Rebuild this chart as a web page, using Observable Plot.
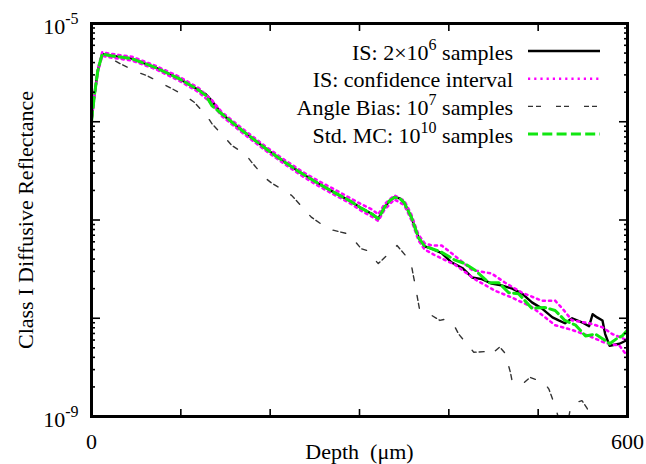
<!DOCTYPE html>
<html><head><meta charset="utf-8">
<script src="https://cdn.jsdelivr.net/npm/d3@7"></script>
<script src="https://cdn.jsdelivr.net/npm/@observablehq/plot@0.6"></script>
<style>
body{margin:0;background:#fff}
#chart{width:646px;height:464px}
</style>
</head><body><div id="chart"></div>
<script>
// ---- data (depth in µm, reflectance) ----
const isDepth = [0,3,7,12,22,45,72,98,120,128,135,146,169,196,216,236,254,272,290,302,314,321,328,334,339,345,350,358,366,373,381,392,403,415,426,437,448,460,471,482,493,504,516,523,530,538,549,557,561,566,572,575,580,591,598,600];
const isRefl  = [1.0e-6,1.78e-6,3.3e-6,4.9e-6,4.7e-6,4.4e-6,3.55e-6,2.75e-6,2.1e-6,1.9e-6,1.62e-6,1.2e-6,8.1e-7,5.25e-7,3.9e-7,2.95e-7,2.35e-7,1.9e-7,1.55e-7,1.32e-7,1.15e-7,1.03e-7,1.35e-7,1.58e-7,1.7e-7,1.66e-7,1.5e-7,1.07e-7,6.6e-8,5.4e-8,5.1e-8,4.6e-8,3.7e-8,3.25e-8,2.6e-8,2.5e-8,2.25e-8,2.15e-8,2.0e-8,1.78e-8,1.45e-8,1.26e-8,1.02e-8,9.5e-9,8.9e-9,1.0e-8,9.1e-9,8.3e-9,1.1e-8,1.02e-8,9.5e-9,6.9e-9,5.25e-9,5.5e-9,5.9e-9,6.3e-9];

const mcDepth = [0,3,7,12,22,45,72,98,120,128,135,146,169,196,216,236,254,272,290,302,314,321,328,334,339,345,350,358,366,373,381,392,407,418,429,445,456,467,478,493,507,519,530,542,553,564,572,580,589,594,600];
const mcRefl  = [1.0e-6,1.78e-6,3.3e-6,4.9e-6,4.7e-6,4.4e-6,3.55e-6,2.75e-6,2.1e-6,1.85e-6,1.45e-6,1.2e-6,8.1e-7,5.25e-7,3.9e-7,2.95e-7,2.35e-7,1.9e-7,1.55e-7,1.32e-7,1.15e-7,1.03e-7,1.35e-7,1.58e-7,1.7e-7,1.66e-7,1.5e-7,1.07e-7,6.6e-8,5.4e-8,5.1e-8,4.7e-8,3.9e-8,3.6e-8,3.1e-8,2.3e-8,2.3e-8,1.82e-8,1.78e-8,1.26e-8,1.29e-8,1.2e-8,9.5e-9,8.5e-9,6.6e-9,6.9e-9,6.2e-9,5.5e-9,6.3e-9,6.6e-9,7.6e-9];

const ciHiDepth = [0,3,7,12,22,45,72,98,120,135,146,169,196,216,236,254,272,290,302,314,321,328,339,350,358,366,373,381,392,403,426,448,463,482,504,519,527,538,557,572,583,594,600];
const ciHiRefl  = [1.0e-6,1.82e-6,3.45e-6,5.1e-6,4.9e-6,4.6e-6,3.7e-6,2.88e-6,2.2e-6,1.65e-6,1.25e-6,8.5e-7,5.5e-7,4.1e-7,3.1e-7,2.5e-7,2.05e-7,1.66e-7,1.45e-7,1.28e-7,1.14e-7,1.45e-7,1.78e-7,1.58e-7,1.14e-7,7.1e-8,5.8e-8,5.5e-8,5.5e-8,4.6e-8,3.1e-8,2.85e-8,2.3e-8,1.82e-8,1.51e-8,1.51e-8,1.26e-8,9.5e-9,8.9e-9,8.1e-9,6.9e-9,6.3e-9,5.9e-9];

const ciLoDepth = [0,3,7,12,22,45,72,98,120,135,146,169,196,216,236,254,272,290,302,314,321,328,339,350,358,366,373,384,407,429,452,471,493,519,538,557,575,591,600];
const ciLoRefl  = [1.0e-6,1.72e-6,3.15e-6,4.7e-6,4.5e-6,4.2e-6,3.42e-6,2.62e-6,2.0e-6,1.52e-6,1.14e-6,7.7e-7,5.0e-7,3.72e-7,2.8e-7,2.22e-7,1.8e-7,1.47e-7,1.24e-7,1.08e-7,0.98e-7,1.27e-7,1.62e-7,1.42e-7,1.0e-7,6.2e-8,5.0e-8,4.4e-8,3.5e-8,2.5e-8,1.9e-8,1.62e-8,1.3e-8,8.5e-9,7.6e-9,6.6e-9,5.6e-9,5.25e-9,4.1e-9];

const abDepth = [0,3,7,12,22,32,53,62,79,89,107,115,129,135,150,157,173,179,194,201,224,246,265,288,302,308,321,342,353,358,362,367,375,390,396,407,411,422,428,443,446,457,463,469,471,484,491,507,512,518,521,527,533,536,539,549,555,560,575];
const abRefl  = [1.0e-6,1.78e-6,3.3e-6,4.9e-6,4.4e-6,3.9e-6,3.16e-6,2.95e-6,2.45e-6,2.2e-6,1.78e-6,1.58e-6,1.15e-6,9.5e-7,6.8e-7,5.75e-7,4.6e-7,3.9e-7,2.7e-7,2.4e-7,1.78e-7,1.07e-7,8.1e-8,7.2e-8,5.1e-8,4.9e-8,3.6e-8,5.5e-8,4.2e-8,3.5e-8,2.25e-8,1.26e-8,1.15e-8,9.5e-9,9.8e-9,8.1e-9,6.9e-9,5.25e-9,4.5e-9,4.6e-9,4.2e-9,5.1e-9,4.4e-9,2.8e-9,2.25e-9,2.2e-9,2.5e-9,2.2e-9,1.9e-9,1.35e-9,1.1e-9,7.0e-10,8.5e-10,1.2e-9,1.35e-9,1.45e-9,1.2e-9,8.0e-10,5.0e-10];

const seriesLabels = ["IS: 2\u00d710^6 samples", "IS: confidence interval", "Angle Bias: 10^7 samples", "Std. MC: 10^10 samples"];
const xTickValues = [0,100,200,300,400,500,600];
const xTickLabels = [0,600];
const yDecades = [1e-9,1e-8,1e-7,1e-6,1e-5];
const yTickLabelValues = [1e-9, 1e-5];
const yTickLabelTexts = ["10^-9", "10^-5"];
const yMinor = [];
for (const d of [1e-9,1e-8,1e-7,1e-6]) for (const m of [2,3,4,5,6,7,8,9]) yMinor.push(+(m*d).toPrecision(3));

const zip = (xs, ys) => xs.map((x,i) => ({depth: x, refl: ys[i]}));
const isData = zip(isDepth, isRefl), mcData = zip(mcDepth, mcRefl);
const hiData = zip(ciHiDepth, ciHiRefl), loData = zip(ciLoDepth, ciLoRefl), abData = zip(abDepth, abRefl);

// ---- styles ----
const font = "'Liberation Serif','Times New Roman',serif";
const styles = [
  {stroke: "#000", strokeWidth: 2.4, strokeDasharray: null},
  {stroke: "#ff00ff", strokeWidth: 2.5, strokeDasharray: "2.2,4"},
  {stroke: "#333", strokeWidth: 1.4, strokeDasharray: "5,3,5,15"},
  {stroke: "#11e611", strokeWidth: 3, strokeDasharray: "10,4.3"}
];
const lineOpts = (s) => ({x: "depth", y: "refl", stroke: s.stroke, strokeWidth: s.strokeWidth, strokeDasharray: s.strokeDasharray, strokeLinejoin: "round", clip: true});
const tickOpts = {tickFormat: () => "", label: null, strokeWidth: 1.6};

const chart = Plot.plot({
  width: 646, height: 464,
  marginLeft: 91, marginRight: 19, marginTop: 23, marginBottom: 48,
  style: {fontFamily: font, fontSize: "22px", background: "white", color: "black", overflow: "visible"},
  x: {domain: [0, 600]},
  y: {type: "log", domain: [1e-9, 1e-5]},
  marks: [
    Plot.line(abData, lineOpts(styles[2])),
    Plot.line(isData, lineOpts(styles[0])),
    Plot.line(loData, lineOpts(styles[1])),
    Plot.line(hiData, lineOpts(styles[1])),
    Plot.line(mcData, lineOpts(styles[3])),
    Plot.axisX({anchor: "bottom", ticks: xTickValues, tickSize: 7, dy: -7, ...tickOpts}),
    Plot.axisX({anchor: "top", ticks: xTickValues, tickSize: 7, dy: 7, ...tickOpts}),
    Plot.axisY({anchor: "left", ticks: yDecades, tickSize: 9, dx: 9, ...tickOpts}),
    Plot.axisY({anchor: "left", ticks: yMinor, tickSize: 4, dx: 4, ...tickOpts}),
    Plot.axisY({anchor: "right", ticks: yDecades, tickSize: 9, dx: -9, ...tickOpts}),
    Plot.axisY({anchor: "right", ticks: yMinor, tickSize: 4, dx: -4, ...tickOpts}),
    Plot.axisX({anchor: "bottom", ticks: xTickLabels, tickSize: 0, tickPadding: 17, label: null, fontSize: 22}),
    Plot.axisY({anchor: "left", ticks: yTickLabelValues, tickSize: 0, tickPadding: 13, dy: 3, label: null, fontSize: 22,
      tickFormat: d => yTickLabelTexts[d > 1e-7 ? 1 : 0]}),
    Plot.text(["Depth\u00a0 (\u03bcm)"], {frameAnchor: "bottom", dy: 35, fontSize: 22, lineAnchor: "middle", textAnchor: "middle"}),
    Plot.text(["Class I Diffusive Reflectance"], {frameAnchor: "left", dx: -66, rotate: -90, fontSize: 22, lineAnchor: "middle", textAnchor: "middle"}),
    Plot.frame({strokeWidth: 3, stroke: "black"})
  ]
});
document.getElementById("chart").appendChild(chart);

// ---- legend ----
const svg = d3.select(chart);
const leg = svg.append("g").attr("font-family", font).attr("font-size", 22).attr("fill", "black");
seriesLabels.forEach((lab, i) => {
  const y = 51 + i * 27.7;
  leg.append("text").attr("x", 513).attr("y", y + 8.5).attr("text-anchor", "end").text(lab);
  const s = styles[i];
  leg.append("line").attr("x1", 528).attr("x2", 600).attr("y1", y).attr("y2", y)
    .attr("stroke", s.stroke).attr("stroke-width", s.strokeWidth)
    .attr("stroke-dasharray", s.strokeDasharray);
});

// ---- superscripts ----
const NS = "http://www.w3.org/2000/svg";
chart.querySelectorAll("text").forEach(t => {
  const s = t.textContent;
  if (!s.includes("^")) return;
  const parts = s.split(/\^(\S+)/);
  t.textContent = "";
  parts.forEach((p, i) => {
    if (p === "") return;
    const ts = document.createElementNS(NS, "tspan");
    ts.textContent = p;
    if (i % 2 === 1) { ts.setAttribute("font-size", "16"); ts.setAttribute("dy", "-10"); }
    else if (i > 0) { ts.setAttribute("dy", "10"); }
    t.appendChild(ts);
  });
});
</script>
</body></html>
